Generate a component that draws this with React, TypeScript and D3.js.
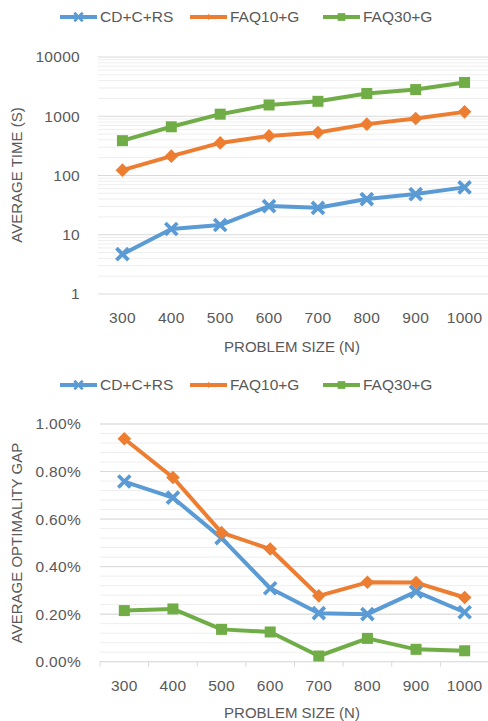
import * as d3 from 'd3';

// Problem sizes on the x axis
const sizes = ['300', '400', '500', '600', '700', '800', '900', '1000'];
const seriesNames = ['CD+C+RS', 'FAQ10+G', 'FAQ30+G'];

// Average time in seconds (log scale)
const timeCdcrs = [4.7, 12.5, 14.6, 30.5, 28.5, 40, 48.6, 63];
const timeFaq10 = [123, 212, 355, 466, 533, 736, 915, 1186];
const timeFaq30 = [387, 664, 1084, 1550, 1787, 2420, 2820, 3720];

// Average optimality gap (fraction)
const gapCdcrs = [0.00758, 0.0069, 0.0052, 0.00309, 0.00204, 0.002, 0.00295, 0.00208];
const gapFaq10 = [0.00938, 0.00775, 0.00543, 0.00474, 0.00277, 0.00334, 0.00333, 0.0027];
const gapFaq30 = [0.00215, 0.00222, 0.00136, 0.00125, 0.00024, 0.00098, 0.00052, 0.00046];

const timeTicks = [1, 10, 100, 1000, 10000];
const gapTicks = [0, 0.002, 0.004, 0.006, 0.008, 0.01];

const colors = ['#5B9BD5', '#ED7D31', '#70AD47'];
const textColor = '#595959';
const font = "'Liberation Sans', Arial, sans-serif";

type Marker = 'x' | 'diamond' | 'square';
const markers: Marker[] = ['x', 'diamond', 'square'];

function MarkerShape({ kind, color, x, y, s }: { kind: Marker; color: string; x: number; y: number; s: number }) {
  if (kind === 'x') {
    const a = 6 * s;
    return (
      <g transform={`translate(${x},${y})`} stroke={color} strokeWidth={3.8 * s}>
        <line x1={-a} y1={-a} x2={a} y2={a} />
        <line x1={-a} y1={a} x2={a} y2={-a} />
      </g>
    );
  }
  if (kind === 'diamond') {
    const r = 6.8 * s;
    return <path d={`M${x},${y - r}L${x + r},${y}L${x},${y + r}L${x - r},${y}Z`} fill={color} />;
  }
  const h = 5.5 * s;
  return <rect x={x - h} y={y - h} width={2 * h} height={2 * h} fill={color} />;
}

function Legend({ y }: { y: number }) {
  const starts = [60, 190, 323];
  return (
    <g>
      {seriesNames.map((name, i) => (
        <g key={name}>
          <line x1={starts[i]} x2={starts[i] + 37} y1={y} y2={y} stroke={colors[i]} strokeWidth={4} />
          <MarkerShape kind={markers[i]} color={colors[i]} x={starts[i] + 18.5} y={y} s={i === 1 ? 0.45 : 0.7} />
          <text x={starts[i] + 40} y={y} dy="0.35em" fontSize={15.5} fill={textColor} fontFamily={font}>
            {name}
          </text>
        </g>
      ))}
    </g>
  );
}

function Series({ values, x, y }: { values: number[][]; x: (d: string) => number; y: (v: number) => number }) {
  const line = d3
    .line<number>()
    .x((_, i) => x(sizes[i]))
    .y((v) => y(v));
  return (
    <g>
      {values.map((vals, si) => (
        <g key={si}>
          <path d={line(vals) || ''} fill="none" stroke={colors[si]} strokeWidth={4} strokeLinejoin="round" />
          {vals.map((v, i) => (
            <MarkerShape key={i} kind={markers[si]} color={colors[si]} x={x(sizes[i])} y={y(v)} s={1} />
          ))}
        </g>
      ))}
    </g>
  );
}

const labelProps = { fontSize: 15.5, fill: textColor, fontFamily: font, letterSpacing: 0.3 };

function TimeChart() {
  const left = 98;
  const right = 489;
  const x = d3.scalePoint<string>().domain(sizes).range([left, right]).padding(0.5);
  const y = d3.scaleLog().domain([1, 10000]).range([294, 57]);
  const minor: number[] = [];
  for (let d = 1; d < 10000; d *= 10) for (let k = 2; k <= 9; k++) minor.push(d * k);
  const xs = (s: string) => x(s) as number;
  return (
    <g>
      <Legend y={17} />
      {minor.map((m) => (
        <line key={m} x1={left} x2={right} y1={y(m)} y2={y(m)} stroke="#EEEEEE" strokeWidth={1} />
      ))}
      {timeTicks.map((t) => (
        <g key={t}>
          <line x1={left} x2={right} y1={y(t)} y2={y(t)} stroke="#D9D9D9" strokeWidth={1} />
          <text x={80} y={y(t)} dy="0.35em" textAnchor="end" {...labelProps}>
            {t}
          </text>
        </g>
      ))}
      {sizes.map((s) => (
        <text key={s} x={xs(s)} y={318} dy="0.35em" textAnchor="middle" {...labelProps}>
          {s}
        </text>
      ))}
      <Series values={[timeCdcrs, timeFaq10, timeFaq30]} x={xs} y={y} />
      <text x={292} y={347} dy="0.35em" textAnchor="middle" fontSize={15} fill={textColor} fontFamily={font}>
        PROBLEM SIZE (N)
      </text>
      <text transform={`translate(17,175) rotate(-90)`} dy="0.35em" textAnchor="middle" fontSize={15} fill={textColor} fontFamily={font}>
        AVERAGE TIME (S)
      </text>
    </g>
  );
}

function GapChart() {
  const left = 100;
  const right = 489;
  const x = d3.scalePoint<string>().domain(sizes).range([left, right]).padding(0.5);
  const y = d3.scaleLinear().domain([0, 0.01]).range([661.7, 424]);
  const minor = d3.range(0, 0.0100001, 0.0004);
  const step = x.step();
  const xs = (s: string) => x(s) as number;
  const fmt = d3.format('.2%');
  return (
    <g>
      <Legend y={385} />
      {minor.map((m, i) => (
        <line key={i} x1={left} x2={right} y1={y(m)} y2={y(m)} stroke="#EEEEEE" strokeWidth={1} />
      ))}
      {gapTicks.map((t) => (
        <g key={t}>
          <line x1={left} x2={right} y1={y(t)} y2={y(t)} stroke="#D9D9D9" strokeWidth={1} />
          <text x={81} y={y(t)} dy="0.35em" textAnchor="end" {...labelProps}>
            {fmt(t)}
          </text>
        </g>
      ))}
      {sizes.map((s, i) => (
        <line key={s} x1={left + i * step} x2={left + i * step} y1={y(0)} y2={y(0) + 5} stroke="#D9D9D9" strokeWidth={1} />
      ))}
      {sizes.map((s) => (
        <text key={s} x={xs(s)} y={685.7} dy="0.35em" textAnchor="middle" {...labelProps}>
          {s}
        </text>
      ))}
      <Series values={[gapCdcrs, gapFaq10, gapFaq30]} x={xs} y={y} />
      <text x={292} y={712.7} dy="0.35em" textAnchor="middle" fontSize={15} fill={textColor} fontFamily={font}>
        PROBLEM SIZE (N)
      </text>
      <text transform={`translate(17,543) rotate(-90)`} dy="0.35em" textAnchor="middle" fontSize={15} fill={textColor} fontFamily={font}>
        AVERAGE OPTIMALITY GAP
      </text>
    </g>
  );
}

export default function App() {
  return (
    <div style={{ position: 'fixed', left: 0, top: 0 }}>
      <svg width={488} height={721} style={{ display: 'block', background: '#fff' }}>
        <TimeChart />
        <GapChart />
      </svg>
    </div>
  );
}
